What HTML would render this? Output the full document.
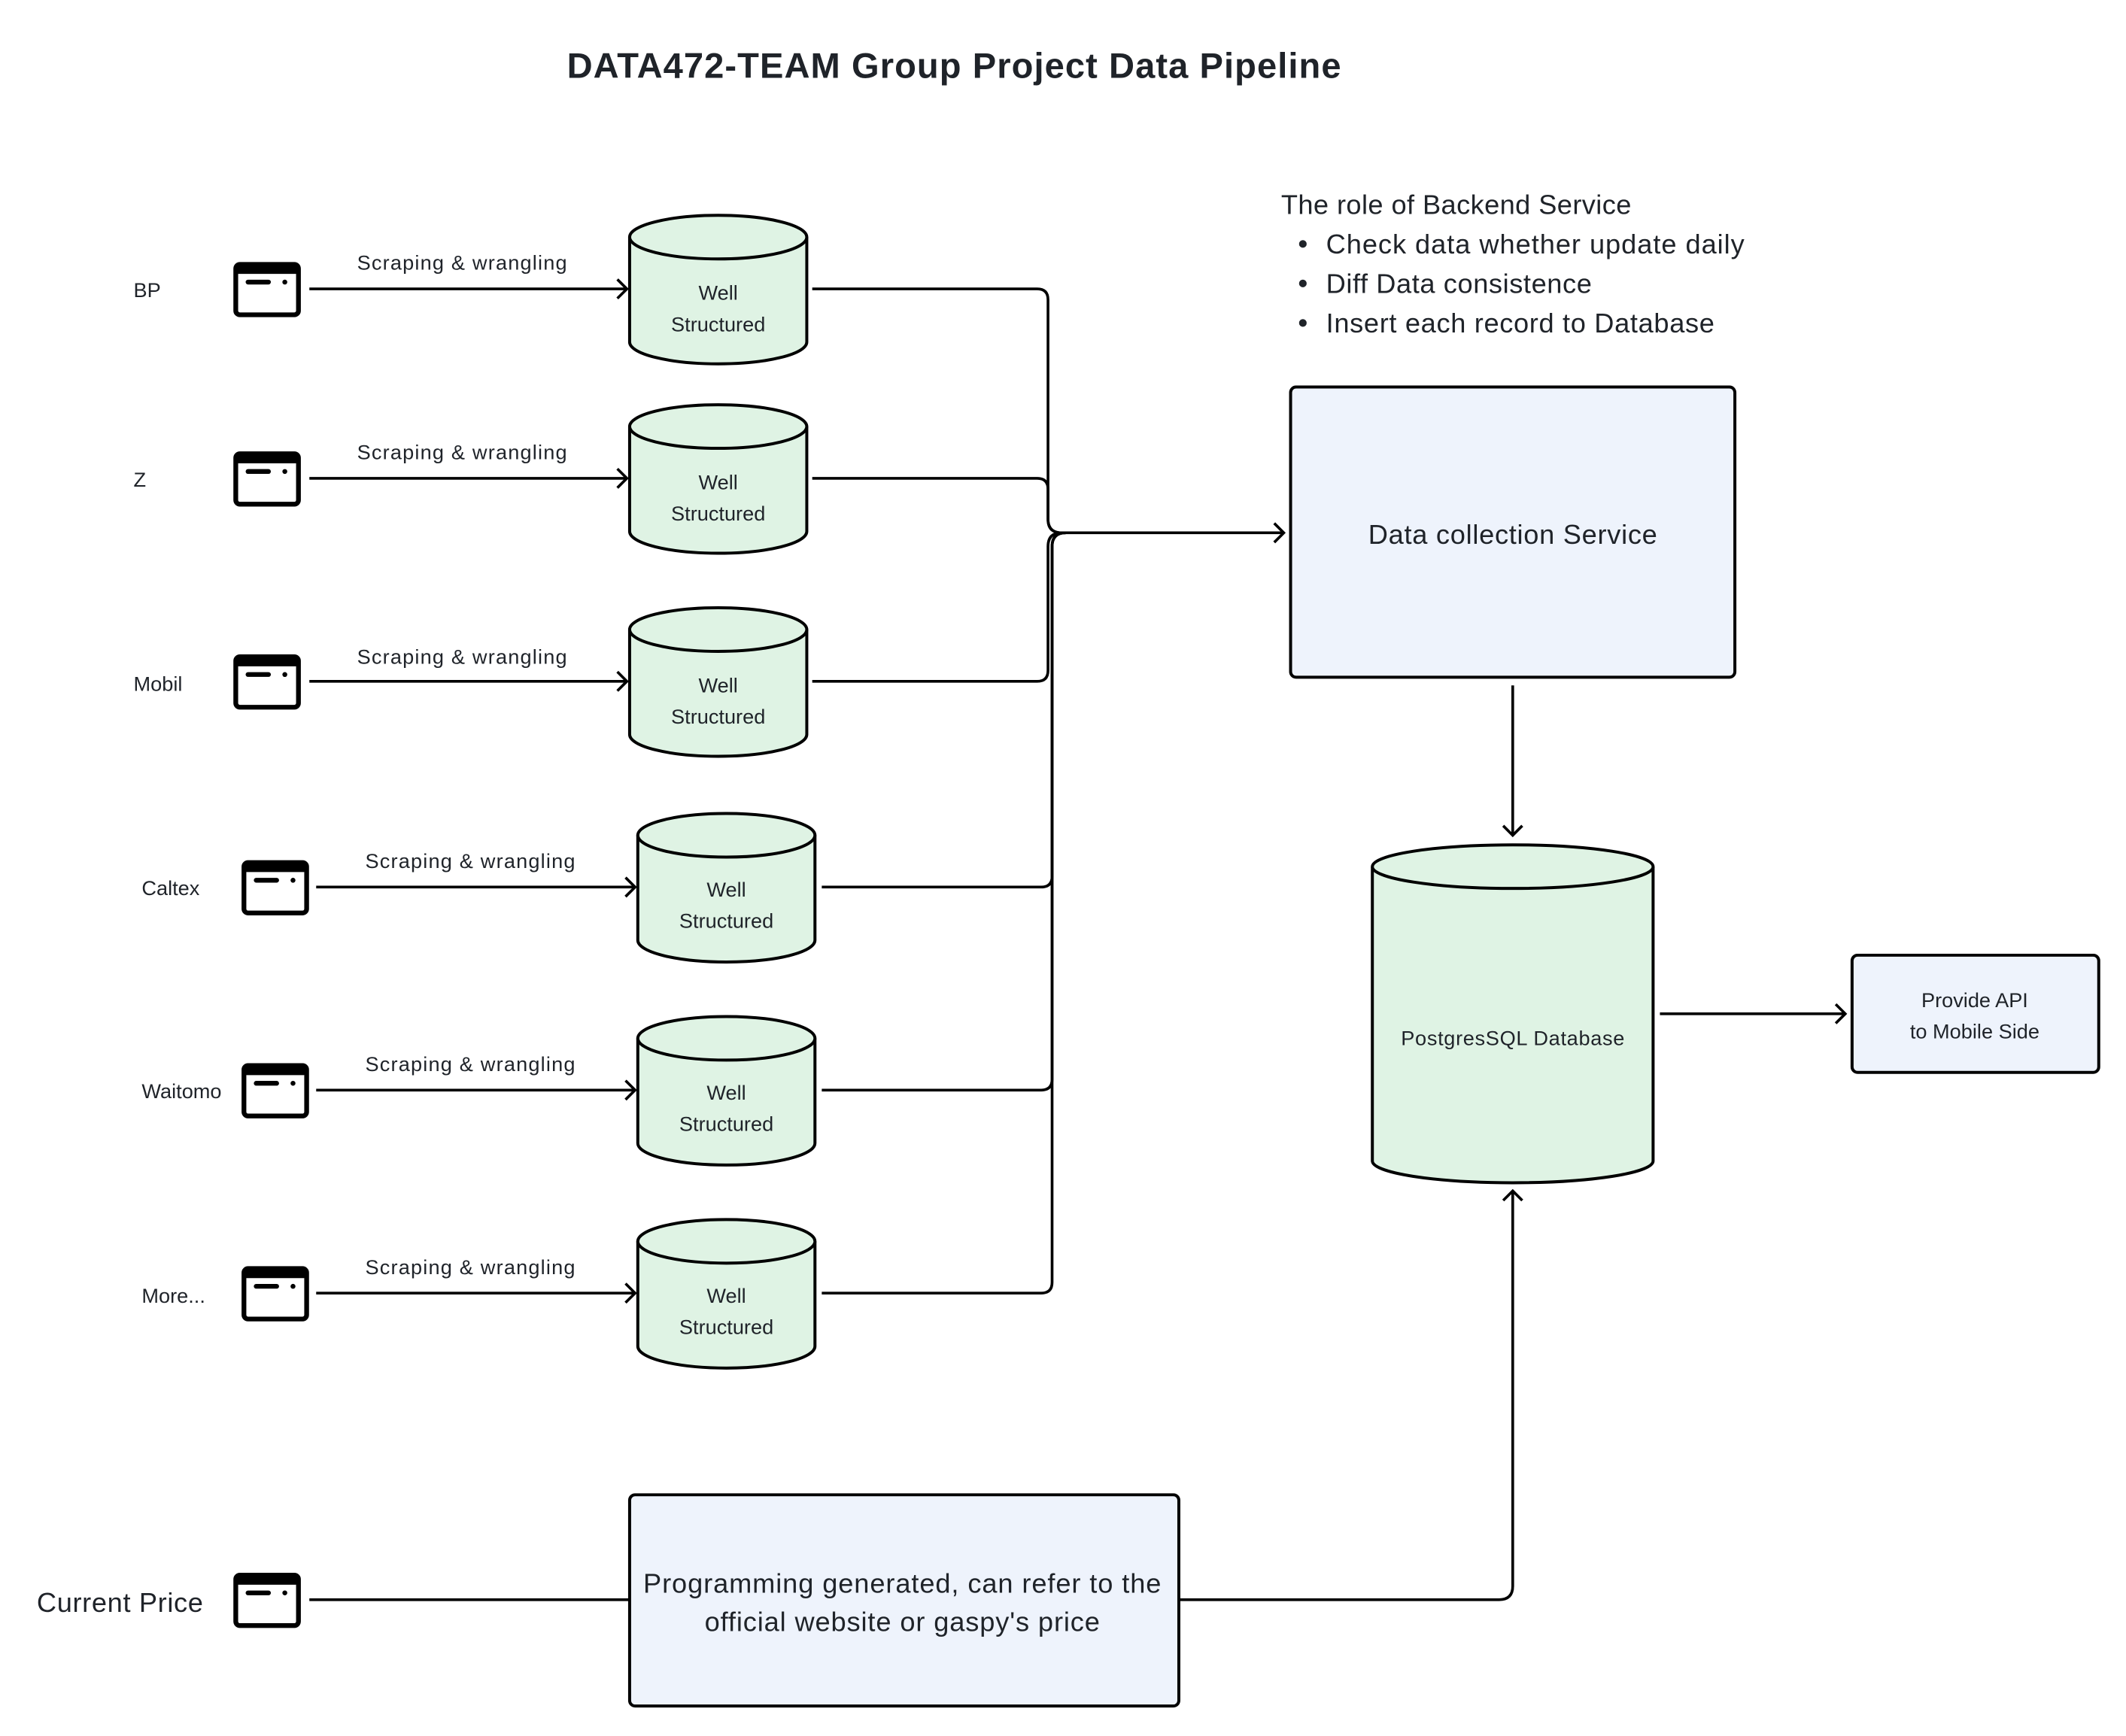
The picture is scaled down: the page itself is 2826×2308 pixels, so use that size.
<!DOCTYPE html>
<html><head><meta charset="utf-8"><style>
html,body{margin:0;padding:0;background:#fff;}
svg{display:block;}
text{font-family:"Liberation Sans",sans-serif;fill:#1f2329;}
</style></head><body>
<svg width="2826" height="2308" viewBox="0 0 1560 1274" xmlns="http://www.w3.org/2000/svg">
<defs>
<g id="icon">
<rect x="0" y="0" width="46" height="37" rx="3" fill="#fff" stroke="#000" stroke-width="3.5"/>
<rect x="0" y="0" width="46" height="7" rx="2" fill="#000"/>
<line x1="9" y1="13" x2="24" y2="13" stroke="#000" stroke-width="3.5" stroke-linecap="round"/>
<circle cx="36" cy="13" r="1.8" fill="#000"/>
</g>
<g id="cyl">
<path d="M0,16 L0,93 A65,16 0 0 0 130,93 L130,16" fill="#dff3e4" stroke="#000" stroke-width="2.2"/>
<ellipse cx="65" cy="16" rx="65" ry="16" fill="#dff3e4" stroke="#000" stroke-width="2.2"/>
</g>
</defs>
<text x="700" y="57" text-anchor="middle" font-size="26" font-weight="bold" textLength="568">DATA472-TEAM Group Project Data Pipeline</text>

<g fill="none" stroke="#000" stroke-width="2">
<!-- rows 1-3 -->
<line x1="227" y1="212" x2="460" y2="212"/><polyline points="453,205 460,212 453,219"/>
<line x1="227" y1="351" x2="460" y2="351"/><polyline points="453,344 460,351 453,358"/>
<line x1="227" y1="500" x2="460" y2="500"/><polyline points="453,493 460,500 453,507"/>
<line x1="232" y1="651" x2="466" y2="651"/><polyline points="459,644 466,651 459,658"/>
<line x1="232" y1="800" x2="466" y2="800"/><polyline points="459,793 466,800 459,807"/>
<line x1="232" y1="949" x2="466" y2="949"/><polyline points="459,942 466,949 459,956"/>
<!-- merges -->
<path d="M596,212 H761 Q769,212 769,220 V381 Q769,391 779,391"/>
<path d="M596,351 H761 Q769,351 769,359 V381 Q769,391 779,391"/>
<path d="M596,500 H761 Q769,500 769,492 V401 Q769,391 779,391"/>
<path d="M603,651 H764 Q772,651 772,643 V401 Q772,391 782,391"/>
<path d="M603,800 H764 Q772,800 772,792 V401 Q772,391 782,391"/>
<path d="M603,949 H764 Q772,949 772,941 V401 Q772,391 782,391"/>
<line x1="775" y1="391" x2="942" y2="391"/><polyline points="935,384 942,391 935,398"/>
<!-- down arrow -->
<line x1="1110" y1="503" x2="1110" y2="613"/><polyline points="1103,606 1110,613 1117,606"/>
<!-- to API -->
<line x1="1218" y1="744" x2="1354" y2="744"/><polyline points="1347,737 1354,744 1347,751"/>
<!-- bottom -->
<line x1="227" y1="1174" x2="461" y2="1174"/>
<path d="M866,1174 H1100 Q1110,1174 1110,1164 V874"/><polyline points="1103,881 1110,874 1117,881"/>
</g>

<g font-size="15">
<text x="98" y="218">BP</text>
<text x="98" y="357">Z</text>
<text x="98" y="507">Mobil</text>
<text x="104" y="657">Caltex</text>
<text x="104" y="806">Waitomo</text>
<text x="104" y="956">More...</text>
</g>
<use href="#icon" x="173" y="194"/>
<use href="#icon" x="173" y="333"/>
<use href="#icon" x="173" y="482"/>
<use href="#icon" x="179" y="633"/>
<use href="#icon" x="179" y="782"/>
<use href="#icon" x="179" y="931"/>
<use href="#icon" x="173" y="1156"/>

<g font-size="15" text-anchor="middle">
<text x="339" y="198" textLength="154">Scraping &amp; wrangling</text>
<text x="339" y="337" textLength="154">Scraping &amp; wrangling</text>
<text x="339" y="487" textLength="154">Scraping &amp; wrangling</text>
<text x="345" y="637" textLength="154">Scraping &amp; wrangling</text>
<text x="345" y="786" textLength="154">Scraping &amp; wrangling</text>
<text x="345" y="935" textLength="154">Scraping &amp; wrangling</text>
</g>

<use href="#cyl" x="462" y="158"/>
<use href="#cyl" x="462" y="297"/>
<use href="#cyl" x="462" y="446"/>
<use href="#cyl" x="468" y="597"/>
<use href="#cyl" x="468" y="746"/>
<use href="#cyl" x="468" y="895"/>
<g font-size="15" text-anchor="middle">
<text x="527" y="220">Well</text><text x="527" y="243">Structured</text>
<text x="527" y="359">Well</text><text x="527" y="382">Structured</text>
<text x="527" y="508">Well</text><text x="527" y="531">Structured</text>
<text x="533" y="658">Well</text><text x="533" y="681">Structured</text>
<text x="533" y="807">Well</text><text x="533" y="830">Structured</text>
<text x="533" y="956">Well</text><text x="533" y="979">Structured</text>
</g>

<g font-size="20">
<text x="940" y="157" textLength="257">The role of Backend Service</text>
<circle cx="956" cy="179" r="2.8" fill="#1f2329"/>
<circle cx="956" cy="208" r="2.8" fill="#1f2329"/>
<circle cx="956" cy="237" r="2.8" fill="#1f2329"/>
<text x="973" y="186" textLength="307">Check data whether update daily</text>
<text x="973" y="215" textLength="195">Diff Data consistence</text>
<text x="973" y="244" textLength="285">Insert each record to Database</text>
</g>

<rect x="947" y="284" width="326" height="213" rx="4" fill="#eef3fc" stroke="#000" stroke-width="2.2"/>
<text x="1110" y="399" font-size="20" text-anchor="middle" textLength="212">Data collection Service</text>

<path d="M1007,636 L1007,852 A103,16 0 0 0 1213,852 L1213,636" fill="#dff3e4" stroke="#000" stroke-width="2.2"/>
<ellipse cx="1110" cy="636" rx="103" ry="16" fill="#dff3e4" stroke="#000" stroke-width="2.2"/>
<text x="1110" y="767" font-size="15" text-anchor="middle" textLength="164">PostgresSQL Database</text>

<rect x="1359" y="701" width="181" height="86" rx="4" fill="#eef3fc" stroke="#000" stroke-width="2.2"/>
<text x="1449" y="739" font-size="15" text-anchor="middle">Provide API</text>
<text x="1449" y="762" font-size="15" text-anchor="middle">to Mobile Side</text>

<text x="27" y="1183" font-size="20" textLength="122">Current Price</text>
<rect x="462" y="1097" width="403" height="155" rx="4" fill="#eef3fc" stroke="#000" stroke-width="2.2"/>
<text x="662" y="1169" font-size="20" text-anchor="middle" textLength="380">Programming generated, can refer to the</text>
<text x="662" y="1197" font-size="20" text-anchor="middle" textLength="290">official website or gaspy's price</text>
</svg>
</body></html>
